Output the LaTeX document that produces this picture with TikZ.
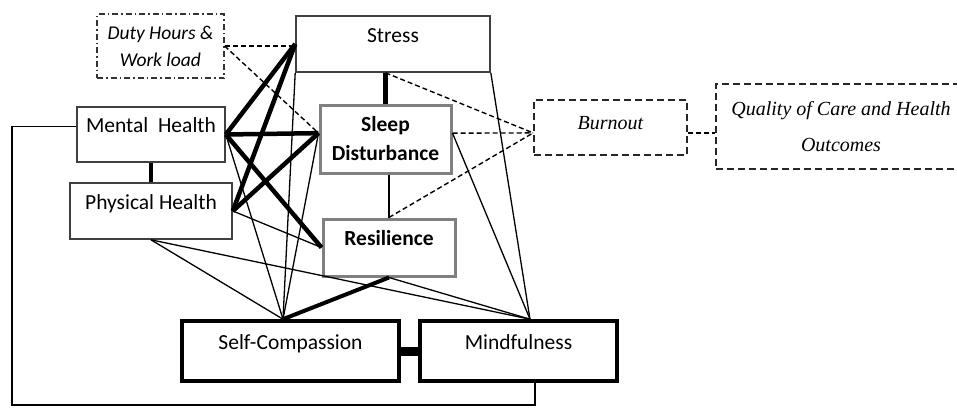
\documentclass[tikz,border=0pt]{standalone}
\usepackage{fontspec}
\setmainfont{Carlito}
\newfontfamily\cambria{Liberation Serif}
\newcommand\bodysize{\fontsize{21.5}{29}\selectfont}

\begin{document}
\begin{tikzpicture}[x=1pt, y=-1pt,
    box/.style = {draw=black!75, line width=1.6pt, inner sep=0pt, font=\bodysize},
    toptext/.style = {text height=14pt, text depth=18pt},
    keybox/.style = {draw=black!50, line width=3pt, inner sep=0pt, font=\bodysize\bfseries},
    corebox/.style = {draw=black, line width=3.6pt},
    dashbox/.style = {draw=black!85, line width=1.8pt, dash pattern=on 7pt off 4pt, inner sep=0pt},
    strong/.style = {line width=4.5pt},
    weak/.style = {line width=1.3pt},
    dashlink/.style = {line width=1.4pt, dash pattern=on 5pt off 3pt}]
    \useasboundingbox (0,0) rectangle (957,407);

    % outer factors
    \node[draw=black!80, line width=1.3pt, dash pattern=on 6pt off 3pt on 1.5pt off 3pt,
        minimum width=127pt, minimum height=64pt, align=center, inner sep=0pt,
        font=\fontsize{19.5}{27}\selectfont\itshape] (duty) at (160.5,46) {Duty Hours \&\\Work load};
    \node[box, toptext, minimum width=194pt, minimum height=56pt] (stress) at (393,44) {Stress};
    \node[box, toptext, minimum width=148pt, minimum height=55pt] (mh) at (151,134.5) {Mental\ \ Health};
    \node[box, toptext, minimum width=162pt, minimum height=56pt] (ph) at (151,211) {Physical Health};

    % key variables
    \node[keybox, minimum width=131pt, minimum height=68pt, align=center] (sleep) at (385.5,139) {Sleep\\Disturbance};
    \node[keybox, toptext, minimum width=132pt, minimum height=57pt] (res) at (389,247.5) {Resilience};

    % outcomes
    \node[dashbox, minimum width=153pt, minimum height=55pt, text height=14pt, text depth=10pt,
        font=\fontsize{20}{24}\selectfont\cambria\itshape] (burnout) at (610.5,127.5) {Burnout};
    \node[dashbox, minimum width=250pt, minimum height=85pt, align=center,
        font=\fontsize{20}{36}\selectfont\cambria\itshape] (quality) at (841,126.5) {Quality of Care and Health\\Outcomes};

    % interventions
    \node[box, corebox, toptext, minimum width=217pt, minimum height=60pt] (sc) at (290.5,351) {Self-Compassion};
    \node[box, corebox, toptext, minimum width=197pt, minimum height=60pt] (mf) at (518.5,351) {Mindfulness};

    \coordinate (scTop) at ([xshift=-7.5pt]sc.north);
    \coordinate (mfTop) at ([xshift=11.5pt]mf.north);
    \coordinate (corner) at (12,405);

    % strong links
    \draw[strong] (mh.south) -- (ph.north);
    \draw[strong] (mh.east) -- (stress.west);
    \draw[strong] (mh.east) -- (sleep.175);
    \draw[strong] (mh.east) -- (res.west);
    \draw[strong] (ph.east) -- (stress.west);
    \draw[strong] (ph.east) -- (sleep.175);
    \draw[strong] (sleep.north) -- (sleep.north |- stress.south);
    \draw[line width=4pt] (res.south) -- (scTop);
    \draw[line width=9pt] (sc.east) -- (mf.west);

    % weak links
    \draw[weak] (mh.east) -- (scTop);
    \draw[weak] (ph.east) -- (res.west);
    \draw[weak] (ph.south) -- (scTop);
    \draw[weak] (ph.south) -- (mfTop);
    \draw[weak] (stress.south west) -- (scTop);
    \draw[weak] (stress.south east) -- (mfTop);
    \draw[weak] (sleep.175) -- (scTop);
    \draw[weak] (sleep.5) -- (mfTop);
    \draw[weak] (res.north) -- (res.north |- sleep.south);
    \draw[weak] (res.south) -- (mfTop);
    \draw[weak] ([yshift=8pt]mh.west) -| (corner) -| ([xshift=16.5pt]mf.south);

    % dashed links
    \draw[dashlink] (duty.east) -- (duty.east -| stress.west);
    \draw[dashlink] (duty.east) -- (sleep.175);
    \draw[dashlink] (sleep.north |- stress.south) -- (burnout.184);
    \draw[dashlink] (sleep.5) -- (burnout.184);
    \draw[dashlink] (res.north) -- (burnout.184);
    \draw[dashlink] (burnout.356) -- (burnout.356 -| quality.west);
\end{tikzpicture}
\end{document}
